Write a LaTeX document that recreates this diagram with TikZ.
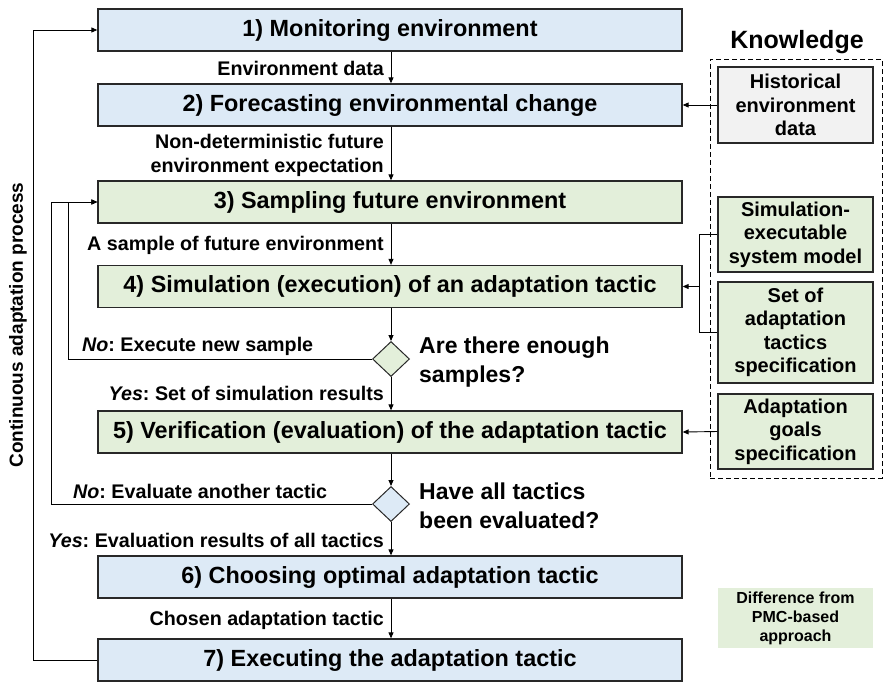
\documentclass[tikz,border=0pt]{standalone}
\usepackage{fontspec}
\setmainfont{Liberation Sans}
\usetikzlibrary{arrows.meta,shapes.geometric}
\definecolor{bluefill}{RGB}{221,234,246}
\definecolor{greenfill}{RGB}{227,239,218}
\definecolor{grayfill}{RGB}{242,242,242}
\definecolor{edge}{RGB}{40,40,40}
\frenchspacing
\tikzset{
  mainbox/.style={draw=edge,line width=1.3pt,minimum width=584pt,minimum height=42pt,inner sep=0pt,font=\bfseries\fontsize{23.4}{27}\selectfont},
  bluebox/.style={mainbox,fill=bluefill},
  greenbox/.style={mainbox,fill=greenfill},
  kbox/.style={draw=edge,line width=1.3pt,minimum width=155pt,inner sep=0pt,align=center,font=\bfseries\fontsize{20}{23.5}\selectfont},
  dec/.style={diamond,draw=edge,line width=1pt,minimum width=37pt,minimum height=35pt,inner sep=0pt},
  lbl/.style={font=\bfseries\fontsize{19.7}{24}\selectfont,align=right,inner sep=0pt},
  qtext/.style={font=\bfseries\fontsize{23}{29.5}\selectfont,align=left,inner sep=0pt,anchor=west},
  conn/.style={draw=black,line width=0.9pt},
  arr/.style={conn,-{Triangle[length=6pt,width=5pt]}},
}
\begin{document}
\begin{tikzpicture}[x=1pt,y=-1pt]
\useasboundingbox (0,0) rectangle (885,697);
% main boxes
\node[bluebox]  (b1) at (390,30)    {1) Monitoring environment};
\node[bluebox]  (b2) at (390,105)   {2) Forecasting environmental change};
\node[greenbox] (b3) at (390,202)   {3) Sampling future environment};
\node[greenbox] (b4) at (390,286.5) {4) Simulation (execution) of an adaptation tactic};
\node[dec,fill=greenfill] (d1) at (391,359) {};
\node[greenbox] (b5) at (390,432)   {5) Verification (evaluation) of the adaptation tactic};
\node[dec,fill=bluefill] (d2) at (391,504) {};
\node[bluebox]  (b6) at (390,577)   {6) Choosing optimal adaptation tactic};
\node[bluebox]  (b7) at (390,660)   {7) Executing the adaptation tactic};
% vertical arrows
\draw[arr] (b1.south -| d1) -- (b2.north -| d1);
\draw[arr] (b2.south -| d1) -- (b3.north -| d1);
\draw[arr] (b3.south -| d1) -- (b4.north -| d1);
\draw[arr] (b4.south -| d1) -- (d1.north);
\draw[arr] (d1.south) -- (b5.north -| d1);
\draw[arr] (b5.south -| d1) -- (d2.north);
\draw[arr] (d2.south) -- (b6.north -| d1);
\draw[arr] (b6.south -| d1) -- (b7.north -| d1);
% labels
\node[lbl,anchor=east] (t1) at (384,68) {Environment data};
\node[lbl,anchor=east] (t2) at (384,155) {Non-deterministic future\\environment expectation};
\node[lbl,anchor=east] (t3) at (384,245) {A sample of future environment};
\node[lbl,anchor=west] (t4) at (82,346) {\textit{No}: Execute new sample};
\node[lbl,anchor=east] (t5) at (384,393) {\textit{Yes}: Set of simulation results};
\node[lbl,anchor=west] (t6) at (73,491) {\textit{No}: Evaluate another tactic};
\node[lbl,anchor=east] (t7) at (384,540) {\textit{Yes}: Evaluation results of all tactics};
\node[lbl,anchor=east] (t8) at (384,620) {Chosen adaptation tactic};
% questions
\node[qtext] (q1) at (419,362) {Are there enough\\samples?};
\node[qtext] (q2) at (419,506) {Have all tactics\\been evaluated?};
% loops
\coordinate (l1) at (68,359);
\coordinate (l2) at (51,504);
\coordinate (l0) at (33,660);
\draw[arr] (d1.west) -- (l1) |- (b3.west);
\draw[arr] (d2.west) -- (l2) |- (b3.west);
\draw[arr] (b7.west) -- (l0) |- (b1.west);
\node[font=\bfseries\fontsize{19}{22}\selectfont,rotate=90,inner sep=0pt] (cap) at (18,325) {Continuous adaptation process};
% knowledge
\node[draw=black,dash pattern=on 5pt off 3pt,line width=1pt,minimum width=172pt,minimum height=419pt,inner sep=0pt] (kb) at (796,268.5) {};
\node[font=\bfseries\fontsize{25}{28}\selectfont,inner sep=0pt] (kt) at (797,42) {Knowledge};
\node[kbox,fill=grayfill,minimum height=76pt] (hist) at (795.5,105) {Historical\\environment\\data};
\node[kbox,fill=greenfill,minimum height=75pt] (sim) at (795.5,234.5) {Simulation-\\executable\\system model};
\node[kbox,fill=greenfill,minimum height=101pt] (set) at (795.5,332.5) {Set of\\adaptation\\tactics\\specification};
\node[kbox,fill=greenfill,minimum height=75pt] (goal) at (795.5,431.5) {Adaptation\\goals\\specification};
\draw[arr] (hist.west) -- (b2.east);
\coordinate (bk) at (699,286.5);
\draw[conn] (sim.west) -| (bk) |- (set.west);
\draw[arr] (bk) -- (b4.east);
\draw[arr] (goal.west) -- (b5.east);
% legend
\node[fill=greenfill,minimum width=155pt,minimum height=60pt,inner sep=0pt,align=center,font=\bfseries\fontsize{16}{19}\selectfont] (leg) at (795.5,618) {Difference from\\PMC-based\\approach};
\end{tikzpicture}
\end{document}
